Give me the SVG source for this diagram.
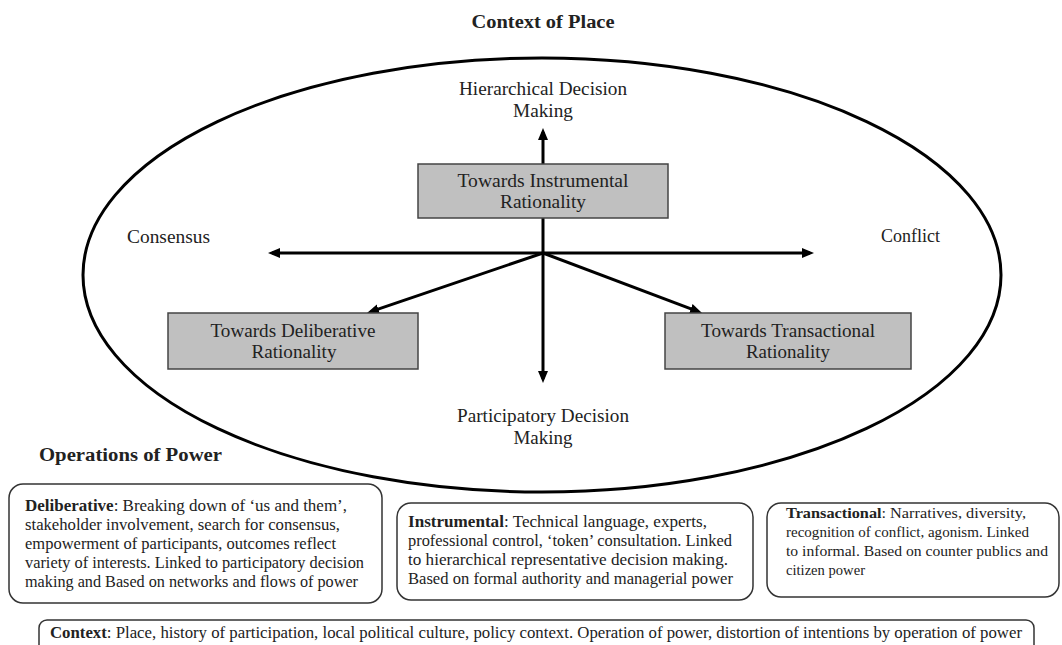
<svg xmlns="http://www.w3.org/2000/svg" width="1062" height="645" viewBox="0 0 1062 645">
  <style>
    text { font-family: "Liberation Serif", "DejaVu Serif", serif; fill: #222; }
    .title { font-size: 18px; font-weight: bold; }
    .lbl { font-size: 19px; text-anchor: middle; }
    .side { font-size: 19px; }
    .body { font-size: 17px; }
    .tight { font-size: 15.5px; }
    .foot { font-size: 16px; }
    .b { font-weight: bold; }
    .node { fill: #c0c0c0; stroke: #444; stroke-width: 1.5; }
    .card { fill: #fff; stroke: #333; stroke-width: 1.5; }
    .axis { stroke: #000; stroke-width: 3; fill: none; marker-end: url(#head); }
  </style>
  <defs>
    <marker id="head" markerUnits="userSpaceOnUse" markerWidth="12" markerHeight="10" viewBox="0 0 12 10" refX="8" refY="5" orient="auto">
      <path d="M0,0 L12,5 L0,10 z" fill="#000"/>
    </marker>
  </defs>

  <rect width="1062" height="645" fill="#fff"/>

  <!-- Context of place -->
  <text class="title" x="543" y="28" text-anchor="middle" textLength="143" lengthAdjust="spacingAndGlyphs">Context of Place</text>
  <ellipse id="place" cx="542" cy="275" rx="459" ry="217" fill="#fff" stroke="#000" stroke-width="3"/>

  <!-- Axes -->
  <g id="connectors">
    <line class="axis" x1="543" y1="253" x2="543" y2="132"/>
    <line class="axis" x1="543" y1="253" x2="543" y2="379"/>
    <line class="axis" x1="543" y1="253" x2="272" y2="253"/>
    <line class="axis" x1="543" y1="253" x2="810" y2="253"/>
    <line class="axis" x1="543" y1="253" x2="370.8" y2="311.7"/>
    <line class="axis" x1="543" y1="253" x2="698.3" y2="311.6"/>
  </g>

  <!-- Axis labels -->
  <g id="hierarchical">
    <text class="lbl" x="543" y="95" textLength="168" lengthAdjust="spacingAndGlyphs">Hierarchical Decision</text>
    <text class="lbl" x="543" y="117" textLength="60" lengthAdjust="spacingAndGlyphs">Making</text>
  </g>
  <g id="participatory">
    <text class="lbl" x="543" y="422" textLength="172" lengthAdjust="spacingAndGlyphs">Participatory Decision</text>
    <text class="lbl" x="543" y="444" textLength="59" lengthAdjust="spacingAndGlyphs">Making</text>
  </g>
  <g id="consensus">
    <text class="side" x="127" y="243" textLength="83" lengthAdjust="spacingAndGlyphs">Consensus</text>
  </g>
  <g id="conflict">
    <text class="side" x="881" y="242" textLength="59" lengthAdjust="spacingAndGlyphs">Conflict</text>
  </g>

  <!-- Rationality nodes -->
  <g id="instrumental-node">
    <rect class="node" x="418" y="164" width="250" height="54"/>
    <text class="lbl" x="543" y="187" textLength="171" lengthAdjust="spacingAndGlyphs">Towards Instrumental</text>
    <text class="lbl" x="543" y="208" textLength="86" lengthAdjust="spacingAndGlyphs">Rationality</text>
  </g>
  <g id="deliberative-node">
    <rect class="node" x="168" y="313" width="250" height="56"/>
    <text class="lbl" x="293" y="337" textLength="165" lengthAdjust="spacingAndGlyphs">Towards Deliberative</text>
    <text class="lbl" x="294" y="358" textLength="85" lengthAdjust="spacingAndGlyphs">Rationality</text>
  </g>
  <g id="transactional-node">
    <rect class="node" x="665" y="313" width="246" height="56"/>
    <text class="lbl" x="788" y="337" textLength="174" lengthAdjust="spacingAndGlyphs">Towards Transactional</text>
    <text class="lbl" x="788" y="358" textLength="84" lengthAdjust="spacingAndGlyphs">Rationality</text>
  </g>

  <!-- Operations of power -->
  <text class="title" x="39" y="461" textLength="183" lengthAdjust="spacingAndGlyphs">Operations of Power</text>

  <g id="deliberative-card">
    <rect class="card" x="9" y="484" width="373" height="119" rx="14"/>
    <text class="body" x="25" y="511" textLength="322" lengthAdjust="spacingAndGlyphs"><tspan class="b">Deliberative</tspan>: Breaking down of ‘us and them’,</text>
    <text class="body" x="25" y="530" textLength="315" lengthAdjust="spacingAndGlyphs">stakeholder involvement, search for consensus,</text>
    <text class="body" x="25" y="549" textLength="311" lengthAdjust="spacingAndGlyphs">empowerment of participants, outcomes reflect</text>
    <text class="body" x="25" y="568" textLength="339" lengthAdjust="spacingAndGlyphs">variety of interests. Linked to participatory decision</text>
    <text class="body" x="25" y="587" textLength="333" lengthAdjust="spacingAndGlyphs">making and Based on networks and flows of power</text>
  </g>

  <g id="instrumental-card">
    <rect class="card" x="397" y="503" width="356" height="97" rx="14"/>
    <text class="body" x="408" y="527" textLength="299" lengthAdjust="spacingAndGlyphs"><tspan class="b">Instrumental</tspan>: Technical language, experts,</text>
    <text class="body" x="408" y="546" textLength="324" lengthAdjust="spacingAndGlyphs">professional control, ‘token’ consultation. Linked</text>
    <text class="body" x="408" y="565" textLength="320" lengthAdjust="spacingAndGlyphs">to hierarchical representative decision making.</text>
    <text class="body" x="408" y="584" textLength="325" lengthAdjust="spacingAndGlyphs">Based on formal authority and managerial power</text>
  </g>

  <g id="transactional-card">
    <rect class="card" x="767" y="503" width="292" height="94" rx="14"/>
    <text class="tight" x="786" y="518" textLength="240" lengthAdjust="spacingAndGlyphs"><tspan class="b">Transactional</tspan>: Narratives, diversity,</text>
    <text class="tight" x="786" y="537" textLength="243" lengthAdjust="spacingAndGlyphs">recognition of conflict, agonism. Linked</text>
    <text class="tight" x="786" y="556" textLength="262" lengthAdjust="spacingAndGlyphs">to informal. Based on counter publics and</text>
    <text class="tight" x="786" y="575" textLength="79" lengthAdjust="spacingAndGlyphs">citizen power</text>
  </g>

  <g id="context-card">
    <rect class="card" x="39" y="620" width="995" height="40" rx="8"/>
    <text class="foot" x="50" y="638" textLength="972" lengthAdjust="spacingAndGlyphs"><tspan class="b">Context</tspan>: Place, history of participation, local political culture, policy context. Operation of power, distortion of intentions by operation of power</text>
  </g>
</svg>
